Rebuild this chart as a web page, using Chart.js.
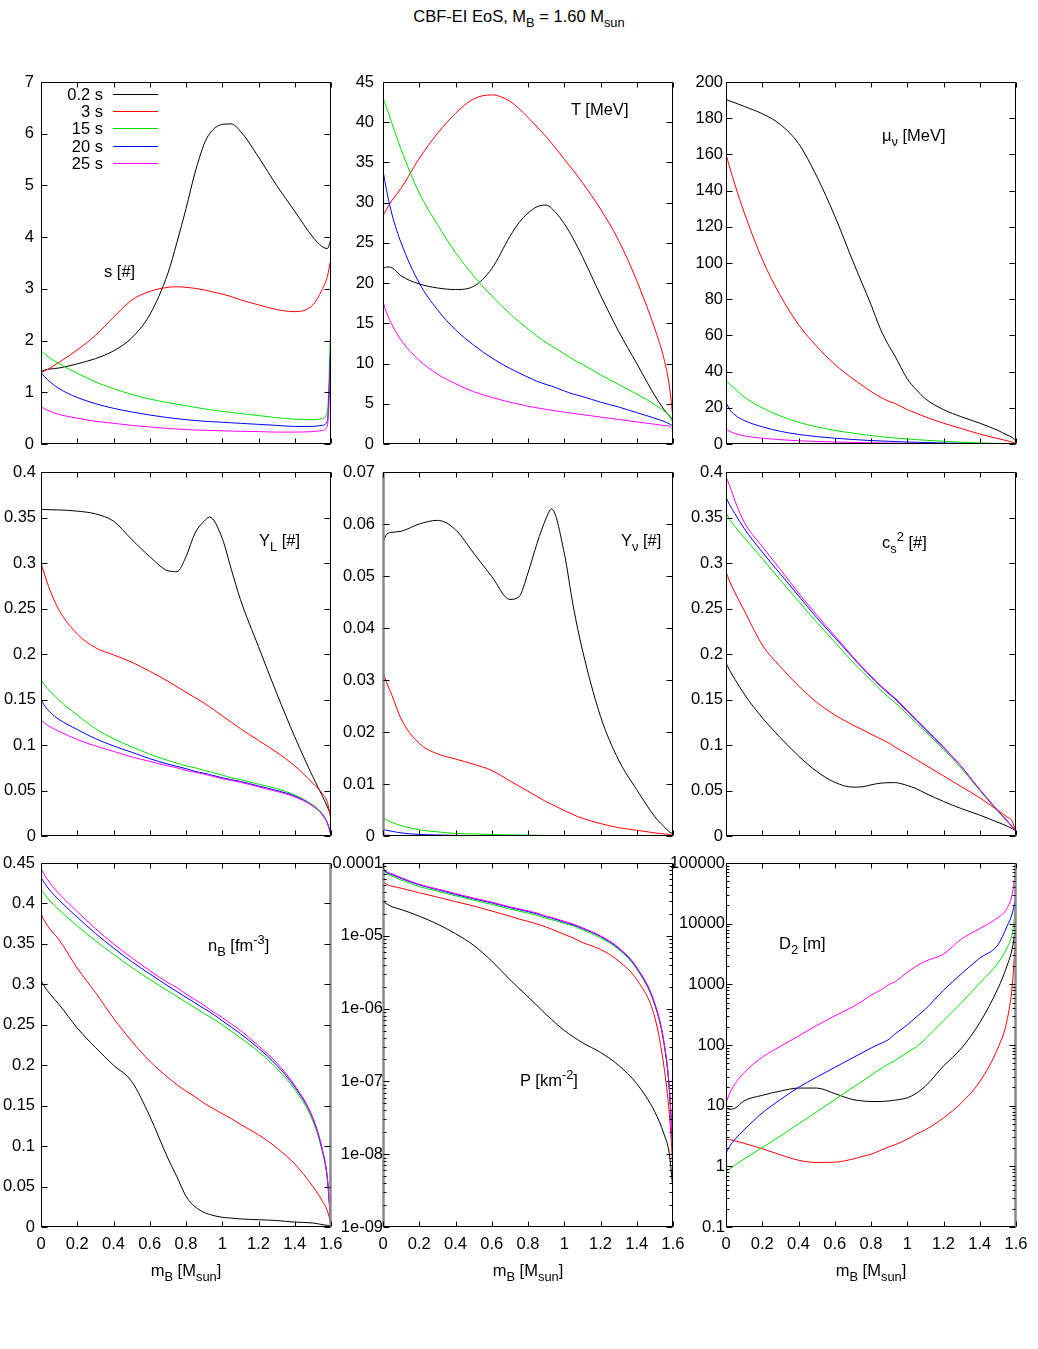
<!DOCTYPE html>
<html><head><meta charset="utf-8">
<script src="https://cdn.jsdelivr.net/npm/chart.js@4.4.1/dist/chart.umd.min.js"></script>
<style>
html,body{margin:0;padding:0;background:#fff;}
#wrap{position:relative;width:1038px;height:1349px;background:#fff;overflow:hidden;font-family:"Liberation Sans",Arial,Helvetica,sans-serif;color:#000;}
#wrap canvas{position:absolute;}
.t{position:absolute;white-space:nowrap;font-size:16.5px;line-height:18px;}
.t sub{font-size:0.78em;vertical-align:-0.35em;line-height:0;}
.t sup{font-size:0.78em;vertical-align:0.55em;line-height:0;}
.lg{position:absolute;height:1px;width:45px;}
</style></head><body><div id="wrap"></div>
<script>
// ---------------- data ----------------
const X = [0,0.02,0.05,0.1,0.2,0.3,0.4,0.5,0.6,0.7,0.75,0.8,0.85,0.9,0.93,1.0,1.05,1.1,1.2,1.3,1.4,1.5,1.55,1.58,1.6];
const SERIES_NAMES = ['0.2 s','3 s','15 s','20 s','25 s'];
const X_TICKS = [0,0.2,0.4,0.6,0.8,1,1.2,1.4,1.6];
const X_TICK_LABELS = ['0','0.2','0.4','0.6','0.8','1','1.2','1.4','1.6'];
const P_TICKS = [1e-9,1e-8,1e-7,1e-6,1e-5,1e-4];
const P_TICK_LABELS = ['1e-09','1e-08','1e-07','1e-06','1e-05','0.0001'];
const D2_TICKS = [0.1,1,10,100,1000,10000,100000];
const D2_TICK_LABELS = ['0.1','1','10','100','1000','10000','100000'];

// entropy per baryon s [#]
const s_black = [1.40,1.43,1.45,1.47,1.55,1.65,1.8,2.05,2.5,3.3,3.9,4.55,5.25,5.8,6.0,6.18,6.19,6.05,5.55,5.0,4.5,4.0,3.82,3.78,3.97];
const s_red   = [1.38,1.41,1.47,1.58,1.82,2.1,2.45,2.78,2.95,3.03,3.04,3.03,3.01,2.98,2.955,2.9,2.85,2.79,2.69,2.6,2.56,2.69,2.98,3.24,3.59];
const s_green = [1.80,1.74,1.66,1.55,1.37,1.2,1.07,0.96,0.87,0.8,0.77,0.74,0.71,0.68,0.665,0.63,0.61,0.59,0.55,0.51,0.48,0.47,0.49,0.62,2.42];
const s_blue  = [1.38,1.3,1.2,1.07,0.9,0.78,0.69,0.62,0.56,0.51,0.49,0.47,0.455,0.44,0.435,0.42,0.41,0.4,0.38,0.36,0.34,0.34,0.36,0.45,2.05];
const s_mag   = [0.72,0.68,0.63,0.57,0.5,0.44,0.4,0.36,0.33,0.3,0.29,0.28,0.27,0.265,0.262,0.255,0.25,0.245,0.24,0.23,0.23,0.24,0.26,0.35,1.8];

// temperature T [MeV]
const t_black = [21.8,22.0,21.9,20.9,19.9,19.4,19.2,19.6,21.8,25.8,27.5,28.7,29.5,29.7,29.3,27.4,25.5,23.3,18.5,14.0,10.0,6.0,4.3,3.5,3.0];
const t_red   = [28.4,29.2,30.3,31.8,35.5,38.6,41.1,42.9,43.4,42.6,41.7,40.6,39.4,38.2,37.4,35.4,34.0,32.5,29.2,25.3,20.3,14.3,10.6,7.2,3.2];
const t_green = [43.0,41.8,39.8,36.6,31.2,27.3,23.8,20.9,18.4,16.2,15.2,14.3,13.4,12.6,12.2,11.2,10.5,9.9,8.6,7.4,6.2,4.9,4.1,3.5,2.6];
const t_blue  = [34,31.5,28.5,25.0,20.0,16.7,14.2,12.3,10.7,9.4,8.85,8.3,7.8,7.4,7.2,6.6,6.2,5.9,5.2,4.6,3.9,3.2,2.8,2.5,2.2];
const t_mag   = [17.7,16.3,14.8,12.9,10.4,8.7,7.5,6.5,5.8,5.2,4.95,4.7,4.5,4.3,4.2,3.95,3.8,3.65,3.35,3.05,2.75,2.45,2.3,2.2,1.8];

// neutrino chemical potential [MeV]
const mu_black = [190.5,189.5,188.5,186.5,182.5,176.5,166,148,126,101,89,77,64,54,49,36,30,25,19,15,11.5,7.5,5,3.5,1.5];
const mu_red   = [160,153,143,128,102,82,66,54,44,36,32.5,29,26,23.5,22.5,19,17,15,11.5,8.5,5.5,3,1.8,1,0.3];
const mu_green = [35,33,30.5,26,20,15.5,12,9.5,7.5,6,5.3,4.7,4.1,3.6,3.3,2.8,2.4,2.1,1.5,1.0,0.6,0.3,0.15,0.1,0];
const mu_blue  = [23,19,16,13,9.5,7,5.3,4.1,3.2,2.5,2.2,1.9,1.7,1.5,1.4,1.1,0.95,0.8,0.55,0.35,0.2,0.1,0.05,0.03,0];
const mu_mag   = [8.5,7,5.8,4.5,3.2,2.4,1.8,1.4,1.1,0.85,0.75,0.65,0.57,0.5,0.47,0.38,0.33,0.28,0.2,0.13,0.08,0.04,0.02,0.01,0];

// lepton fraction Y_L
const yl_black = [0.359,0.3588,0.3585,0.3583,0.357,0.354,0.346,0.326,0.307,0.2915,0.2905,0.307,0.333,0.346,0.3505,0.327,0.293,0.26,0.208,0.157,0.109,0.065,0.045,0.032,0.023];
const yl_red   = [0.300,0.287,0.27,0.248,0.222,0.207,0.199,0.191,0.181,0.17,0.164,0.158,0.152,0.146,0.142,0.132,0.125,0.118,0.105,0.092,0.077,0.058,0.047,0.037,0.018];
const yl_green = [0.172,0.166,0.159,0.149,0.133,0.118,0.107,0.098,0.09,0.083,0.08,0.077,0.075,0.072,0.0705,0.067,0.064,0.062,0.057,0.052,0.045,0.034,0.025,0.015,0.002];
const yl_blue  = [0.150,0.143,0.136,0.128,0.117,0.107,0.099,0.092,0.085,0.079,0.0765,0.074,0.071,0.069,0.0675,0.064,0.062,0.06,0.055,0.05,0.044,0.033,0.024,0.014,0.001];
const yl_mag   = [0.128,0.124,0.12,0.115,0.106,0.099,0.093,0.087,0.082,0.077,0.075,0.072,0.07,0.068,0.0665,0.063,0.061,0.059,0.054,0.049,0.043,0.033,0.024,0.014,0.001];

// neutrino fraction Y_nu
const yn_black = [0.0565,0.058,0.0584,0.0586,0.060,0.0607,0.0589,0.0544,0.0499,0.0455,0.046,0.0506,0.0563,0.0611,0.0629,0.0544,0.0441,0.0358,0.023,0.0146,0.0089,0.0037,0.0018,0.0008,0.0004];
const yn_red   = [0.0315,0.0295,0.027,0.0225,0.0178,0.0158,0.0148,0.0138,0.0126,0.0106,0.0096,0.0086,0.0076,0.0066,0.0061,0.0049,0.0041,0.0034,0.0024,0.0016,0.0011,0.0006,0.0004,0.0003,0.0001];
const yn_green = [0.0035,0.0031,0.0026,0.002,0.0012,0.0008,0.0005,0.0004,0.0003,0.0002,0.0002,0.00015,0.00015,0.0001,0.0001,0.0001,0.0001,0.0001,0.00005,0.00005,0.00003,0.00002,0.00001,0.00001,0];
const yn_blue  = [0.0013,0.0011,0.0009,0.0006,0.0003,0.0002,0.00012,0.00008,0.00005,0.00004,0.00003,0.00003,0.00002,0.00002,0.00002,0.00001,0.00001,0.00001,0.00001,0,0,0,0,0,0];
const yn_mag   = [0.0002,0.00015,0.0001,0.00006,0.00003,0.00002,0.00001,0.00001,0,0,0,0,0,0,0,0,0,0,0,0,0,0,0,0,0];

// sound speed squared c_s^2
const cs_black = [0.19,0.182,0.172,0.156,0.13,0.108,0.088,0.071,0.059,0.0537,0.054,0.0562,0.058,0.0586,0.0587,0.0555,0.052,0.047,0.038,0.03,0.023,0.015,0.011,0.008,0.006];
const cs_red   = [0.29,0.28,0.267,0.248,0.21,0.186,0.165,0.147,0.133,0.122,0.117,0.112,0.107,0.102,0.098,0.09,0.084,0.078,0.066,0.054,0.042,0.028,0.021,0.016,0.003];
const cs_green = [0.355,0.348,0.34,0.328,0.305,0.281,0.258,0.235,0.213,0.191,0.181,0.171,0.161,0.152,0.147,0.134,0.124,0.115,0.095,0.074,0.05,0.027,0.016,0.01,0.005];
const cs_blue  = [0.372,0.364,0.354,0.338,0.312,0.288,0.264,0.240,0.218,0.196,0.185,0.175,0.165,0.156,0.151,0.137,0.127,0.117,0.097,0.076,0.051,0.028,0.017,0.01,0.005];
const cs_mag   = [0.395,0.385,0.368,0.345,0.318,0.293,0.267,0.243,0.22,0.197,0.186,0.176,0.166,0.157,0.152,0.138,0.128,0.118,0.098,0.076,0.051,0.028,0.017,0.01,0.005];

// baryon density n_B [fm^-3]
const nb_black = [0.305,0.297,0.288,0.275,0.246,0.222,0.2,0.18,0.137,0.085,0.062,0.038,0.025,0.018,0.0155,0.012,0.011,0.01,0.009,0.008,0.006,0.005,0.003,0.002,0.001];
const nb_red   = [0.387,0.378,0.368,0.355,0.32,0.29,0.258,0.23,0.205,0.185,0.176,0.168,0.161,0.153,0.149,0.14,0.134,0.127,0.114,0.098,0.078,0.05,0.033,0.02,0.003];
const nb_green = [0.417,0.411,0.403,0.392,0.372,0.354,0.337,0.321,0.306,0.292,0.285,0.278,0.271,0.264,0.26,0.25,0.242,0.234,0.217,0.196,0.17,0.131,0.095,0.058,0];
const nb_blue  = [0.432,0.425,0.416,0.404,0.383,0.363,0.345,0.328,0.313,0.298,0.291,0.284,0.277,0.27,0.266,0.255,0.247,0.239,0.221,0.2,0.173,0.134,0.097,0.06,0];
const nb_mag   = [0.443,0.435,0.425,0.412,0.39,0.369,0.35,0.333,0.317,0.302,0.296,0.288,0.281,0.274,0.269,0.259,0.251,0.243,0.224,0.203,0.175,0.135,0.098,0.06,0];

// pressure P [km^-2]
const p_black = [2.95e-5,2.75e-5,2.5e-5,2.3e-5,1.86e-5,1.45e-5,1.07e-5,7.4e-6,4.5e-6,2.5e-6,1.9e-6,1.45e-6,1.1e-6,8.3e-7,7.1e-7,5.0e-7,4.1e-7,3.4e-7,2.5e-7,1.66e-7,9.3e-8,3.8e-8,1.9e-8,1.0e-8,3.2e-9];
const p_red   = [5.6e-5,5.1e-5,4.8e-5,4.5e-5,3.9e-5,3.4e-5,2.95e-5,2.57e-5,2.19e-5,1.86e-5,1.7e-5,1.58e-5,1.45e-5,1.32e-5,1.23e-5,1.05e-5,9.3e-6,8.1e-6,6.5e-6,4.5e-6,2.5e-6,7.5e-7,1.6e-7,3.5e-8,6.3e-9];
const p_green = [8.0e-5,7.1e-5,6.6e-5,5.85e-5,4.75e-5,4.1e-5,3.55e-5,3.08e-5,2.7e-5,2.33e-5,2.19e-5,2.05e-5,1.91e-5,1.74e-5,1.67e-5,1.48e-5,1.36e-5,1.21e-5,9.4e-6,6.5e-6,3.5e-6,1.1e-6,3.3e-7,7.5e-8,1e-8];
const p_blue  = [8.4e-5,7.4e-5,6.9e-5,6.15e-5,5.0e-5,4.3e-5,3.7e-5,3.22e-5,2.83e-5,2.44e-5,2.29e-5,2.15e-5,2.0e-5,1.82e-5,1.75e-5,1.54e-5,1.41e-5,1.26e-5,9.8e-6,6.7e-6,3.6e-6,1.14e-6,3.4e-7,7.8e-8,1e-8];
const p_mag   = [8.6e-5,7.6e-5,7.1e-5,6.3e-5,5.1e-5,4.4e-5,3.8e-5,3.3e-5,2.9e-5,2.5e-5,2.35e-5,2.2e-5,2.05e-5,1.86e-5,1.79e-5,1.58e-5,1.45e-5,1.29e-5,1.0e-5,6.9e-6,3.7e-6,1.17e-6,3.5e-7,8e-8,1e-8];

// diffusion coefficient D_2 [m]
const d_black = [9.1,8.7,9.1,12,14.8,17.4,19.5,19.5,15.8,12.6,12,11.7,11.7,12,12.3,13.5,16,21,45,89,234,851,2000,3980,9550];
const d_red   = [2.8,2.75,2.63,2.4,1.95,1.55,1.26,1.16,1.17,1.32,1.45,1.58,1.82,2.1,2.25,2.8,3.4,4.0,6.3,11.2,25,89,251,1000,7940];
const d_green = [0.83,0.91,1.05,1.32,2.04,3.16,5.0,7.9,12.6,20,25,31.6,40,49,55,76,93,126,251,501,1050,2240,3980,7080,20000];
const d_blue  = [1.66,2.14,2.8,4.0,7.6,12.6,20,29.5,42.7,61.7,74,89,105,125,150,215,290,390,800,1500,2700,4470,9000,15000,28200];
const d_mag   = [11,16,23,35,63,95,141,209,302,427,525,661,794,1000,1090,1585,1995,2400,3160,5620,8300,12600,17800,31600,89000];

// ---------------- layout / style ----------------
const COLORS = ['#000000','#ff0000','#00e000','#0000ff','#ff00ff'];
const COL_L = [41, 383, 726], COL_W = 290;
const ROW_T = [82, 472, 863], ROW_H = [362, 364, 364];
const FONT = {family:'"Liberation Sans", Arial, sans-serif', size:16.5};

const panels = [
  {r:0,c:0, series:[s_black,s_red,s_green,s_blue,s_mag], min:0, max:7, step:1, pad:7},
  {r:0,c:1, series:[t_black,t_red,t_green,t_blue,t_mag], min:0, max:45, step:5, pad:9},
  {r:0,c:2, series:[mu_black,mu_red,mu_green,mu_blue,mu_mag], min:0, max:200, step:20, pad:3},
  {r:1,c:0, series:[yl_black,yl_red,yl_green,yl_blue,yl_mag], min:0, max:0.4, step:0.05, pad:5},
  {r:1,c:1, series:[yn_black,yn_red,yn_green,yn_blue,yn_mag], min:0, max:0.07, step:0.01, pad:8, gray:'left'},
  {r:1,c:2, series:[cs_black,cs_red,cs_green,cs_blue,cs_mag], min:0, max:0.4, step:0.05, pad:3},
  {r:2,c:0, series:[nb_black,nb_red,nb_green,nb_blue,nb_mag], min:0, max:0.45, step:0.05, pad:6, gray:'right'},
  {r:2,c:1, series:[p_black,p_red,p_green,p_blue,p_mag], min:1e-9, max:1e-4, log:true, ticks:P_TICKS, labels:P_TICK_LABELS, pad:0, gray:'left'},
  {r:2,c:2, series:[d_black,d_red,d_green,d_blue,d_mag], min:0.1, max:1e5, log:true, ticks:D2_TICKS, labels:D2_TICK_LABELS, pad:1, gray:'right'}
];

const framePlugin = {
  id:'frame',
  afterDatasetsDraw(chart, args, opts){
    const ctx = chart.ctx, a = chart.chartArea;
    const xs = chart.scales.x, ys = chart.scales.y;
    const L = Math.round(a.left)+0.5, R = Math.round(a.right)-0.5;
    const T = Math.round(a.top)+0.5, B = Math.round(a.bottom)-0.5;
    ctx.save();
    if (opts && opts.gray) {
      ctx.strokeStyle = '#8a8a8a'; ctx.lineWidth = 2.5;
      const gx = opts.gray === 'left' ? L : R;
      ctx.beginPath(); ctx.moveTo(gx, T); ctx.lineTo(gx, B); ctx.stroke();
    }
    ctx.strokeStyle = '#000'; ctx.lineWidth = 1;
    ctx.beginPath();
    xs.ticks.forEach(t => {
      const p = Math.round(xs.getPixelForValue(t.value))+0.5;
      ctx.moveTo(p,B); ctx.lineTo(p,B-5);
      ctx.moveTo(p,T); ctx.lineTo(p,T+5);
    });
    ys.ticks.forEach(t => {
      const p = Math.round(ys.getPixelForValue(t.value))+0.5;
      ctx.moveTo(L,p); ctx.lineTo(L+6,p);
      ctx.moveTo(R,p); ctx.lineTo(R-6,p);
    });
    if (ys.type === 'logarithmic') {
      for (let d = ys.min; d < ys.max*0.999; d *= 10) {
        for (let m = 2; m <= 9; m++) {
          const p = Math.round(ys.getPixelForValue(d*m))+0.5;
          ctx.moveTo(L,p); ctx.lineTo(L+3,p);
          ctx.moveTo(R,p); ctx.lineTo(R-3,p);
        }
      }
    }
    ctx.stroke();
    ctx.beginPath();
    ctx.moveTo(L,T); ctx.lineTo(R,T);
    ctx.moveTo(L,B); ctx.lineTo(R,B);
    if (!(opts && opts.gray === 'left')) { ctx.moveTo(L,T); ctx.lineTo(L,B); }
    if (!(opts && opts.gray === 'right')) { ctx.moveTo(R,T); ctx.lineTo(R,B); }
    ctx.stroke();
    ctx.restore();
  }
};

const wrap = document.getElementById('wrap');
panels.forEach(p => {
  const bottom = p.r === 2;
  const xh = bottom ? 70 : 30;
  const W = COL_W + 80, H = ROW_H[p.r] + 20 + xh;
  const cv = document.createElement('canvas');
  cv.width = W; cv.height = H;
  cv.style.left = (COL_L[p.c]-60)+'px';
  cv.style.top = (ROW_T[p.r]-20)+'px';
  cv.style.width = W+'px'; cv.style.height = H+'px';
  wrap.appendChild(cv);
  const datasets = p.series.map((arr,k) => ({
    label: SERIES_NAMES[k],
    data: X.map((x,i) => ({x:x, y:arr[i]})),
    borderColor: COLORS[k], backgroundColor: COLORS[k],
    borderWidth: 1, pointRadius: 0, fill: false,
    tension: 0.4, cubicInterpolationMode: 'monotone',
    order: 4-k
  }));
  new Chart(cv, {
    type: 'line',
    data: {datasets},
    options: {
      responsive: false, animation: false, devicePixelRatio: 1, events: [],
      layout: {padding: {left:0, right:20, top:20, bottom:0}},
      plugins: {legend:{display:false}, tooltip:{enabled:false}, frame:{gray: p.gray || null}},
      scales: {
        x: {
          type:'linear', min:0, max:1.6,
          grid:{display:false, drawTicks:false}, border:{display:false},
          afterBuildTicks: s => { s.ticks = X_TICKS.map(v => ({value:v})); },
          afterFit: s => { s.height = xh; },
          ticks: {display: bottom, padding: 8, font: FONT, color:'#000', maxRotation:0, autoSkip:false,
                  callback: v => X_TICK_LABELS[X_TICKS.indexOf(v)]}
        },
        y: {
          type: p.log ? 'logarithmic' : 'linear', min:p.min, max:p.max,
          grid:{display:false, drawTicks:false}, border:{display:false},
          afterBuildTicks: s => {
            if (p.log) { s.ticks = p.ticks.map(v => ({value:v})); }
            else {
              const n = Math.round((p.max-p.min)/p.step), arr = [];
              for (let k = 0; k <= n; k++) arr.push({value: +(p.min + k*p.step).toFixed(6)});
              s.ticks = arr;
            }
          },
          afterFit: s => { s.width = 60; },
          ticks: {padding: p.pad, font: FONT, color:'#000', autoSkip:false,
                  callback: v => p.log ? p.labels[p.ticks.indexOf(v)] : String(+(+v).toFixed(6))}
        }
      }
    },
    plugins: [framePlugin]
  });
});

// ---------------- text overlays ----------------
function addText(html, left, top, extra){
  const d = document.createElement('div');
  d.className = 't'; d.innerHTML = html;
  d.style.left = left+'px'; d.style.top = top+'px';
  if (extra) Object.assign(d.style, extra);
  wrap.appendChild(d);
}
addText('CBF-EI EoS, M<sub>B</sub> = 1.60 M<sub>sun</sub>', 0, 7, {width:'1038px', textAlign:'center'});
addText('s [#]', 104, 262);
addText('T [MeV]', 571, 100);
addText('&mu;<sub>&nu;</sub> [MeV]', 882, 126);
addText('Y<sub>L</sub> [#]', 259, 531);
addText('Y<sub>&nu;</sub> [#]', 621, 531);
addText('c<sub>s</sub><sup>2</sup> [#]', 882, 533);
addText('n<sub>B</sub> [fm<sup>-3</sup>]', 208, 936);
addText('P [km<sup>-2</sup>]', 520, 1071);
addText('D<sub>2</sub> [m]', 779, 934);
[186, 528, 871].forEach(cx => addText('m<sub>B</sub> [M<sub>sun</sub>]', cx-100, 1261, {width:'200px', textAlign:'center'}));

// legend (panel 1)
const LEG_Y = [94, 111.2, 128.4, 145.6, 162.8];
SERIES_NAMES.forEach((name,k) => {
  addText(name, 0, LEG_Y[k]-9, {width:'103px', textAlign:'right'});
  const ln = document.createElement('div');
  ln.className = 'lg';
  ln.style.left = '113px'; ln.style.top = Math.round(LEG_Y[k])+'px';
  ln.style.backgroundColor = COLORS[k];
  wrap.appendChild(ln);
});
</script>
</body></html>
